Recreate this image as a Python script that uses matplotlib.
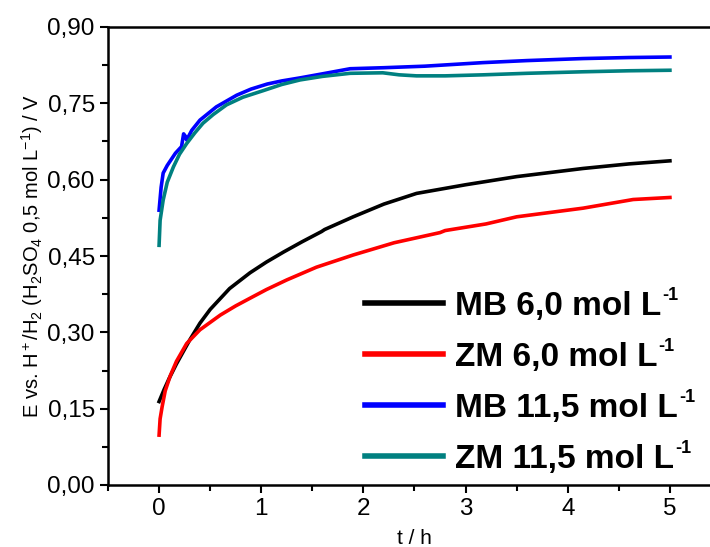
import matplotlib
matplotlib.use("Agg")
import matplotlib.pyplot as plt
from matplotlib.ticker import MultipleLocator, FuncFormatter
from matplotlib.transforms import IdentityTransform

plt.rcParams['font.family'] = ['Liberation Sans', 'DejaVu Sans']
plt.rcParams['mathtext.fontset'] = 'custom'
plt.rcParams['mathtext.rm'] = 'Liberation Sans'
plt.rcParams['mathtext.it'] = 'Liberation Sans'
plt.rcParams['mathtext.bf'] = 'Liberation Sans:bold'

# ---- data ----
t_mb6 = [0, 0.05, 0.1, 0.17, 0.3, 0.4, 0.5, 0.69, 0.89, 1.05, 1.22, 1.4, 1.59,
         1.62, 1.9, 2.2, 2.52, 3.0, 3.5, 4.15, 4.6, 5.0]
e_mb6 = [0.164, 0.188, 0.210, 0.238, 0.285, 0.318, 0.345, 0.386, 0.417, 0.438,
         0.458, 0.478, 0.498, 0.502, 0.527, 0.552, 0.573, 0.590, 0.606, 0.622,
         0.631, 0.637]

t_zm6 = [0, 0.01, 0.03, 0.06, 0.11, 0.17, 0.27, 0.4, 0.6, 0.75, 0.89, 1.05,
         1.25, 1.54, 1.9, 2.3, 2.75, 2.8, 3.2, 3.5, 4.15, 4.64, 5.0]
e_zm6 = [0.098, 0.13, 0.154, 0.185, 0.215, 0.243, 0.278, 0.305, 0.334, 0.352,
         0.367, 0.384, 0.403, 0.428, 0.452, 0.476, 0.496, 0.500, 0.513, 0.527,
         0.544, 0.561, 0.565]

t_mb11 = [0, 0.02, 0.04, 0.08, 0.16, 0.22, 0.24, 0.255, 0.27, 0.32, 0.4, 0.56,
          0.76, 0.9, 1.06, 1.2, 1.38, 1.6, 1.87, 2.2, 2.6, 3.17, 3.6, 4.15,
          4.6, 5.0]
e_mb11 = [0.540, 0.585, 0.613, 0.628, 0.652, 0.665, 0.690, 0.686, 0.678, 0.697,
          0.717, 0.743, 0.766, 0.778, 0.788, 0.794, 0.800, 0.808, 0.818, 0.820,
          0.823, 0.830, 0.834, 0.838, 0.840, 0.841]

t_zm11 = [0, 0.01, 0.04, 0.08, 0.14, 0.2, 0.27, 0.35, 0.43, 0.53, 0.66, 0.82,
          1.02, 1.2, 1.38, 1.6, 1.87, 2.19, 2.35, 2.52, 2.8, 3.17, 3.6, 4.15,
          4.6, 5.0]
e_zm11 = [0.471, 0.52, 0.56, 0.595, 0.625, 0.650, 0.671, 0.692, 0.711, 0.728,
          0.747, 0.762, 0.775, 0.787, 0.796, 0.803, 0.809, 0.810, 0.806, 0.804,
          0.804, 0.806, 0.809, 0.812, 0.814, 0.815]

labels = ["MB 6,0 mol L", "ZM 6,0 mol L", "MB 11,5 mol L", "ZM 11,5 mol L"]
label_sup = "-1"
colors = ['#000000', '#ff0000', '#0000ff', '#008080']

fig = plt.figure(figsize=(7.10, 5.47), dpi=100)
ax = fig.add_axes([108/710, 62/547, 613/710, 458/547])

for (t, e), lab, c in zip([(t_mb6, e_mb6), (t_zm6, e_zm6), (t_mb11, e_mb11), (t_zm11, e_zm11)],
                          labels, colors):
    ax.plot(t, e, color=c, lw=2.6, label=lab, solid_joinstyle='round')

ax.set_xlim(-0.5, 5.5)
ax.set_ylim(0, 0.9)
ax.xaxis.set_major_locator(MultipleLocator(1))
ax.xaxis.set_minor_locator(MultipleLocator(0.5))
ax.yaxis.set_major_locator(MultipleLocator(0.15))
ax.yaxis.set_minor_locator(MultipleLocator(0.075))
ax.yaxis.set_major_formatter(FuncFormatter(lambda v, p: f"{v:.2f}".replace('.', ',')))
ax.tick_params(which='both', direction='out', width=1.5, labelsize=17.5)
ax.tick_params(which='major', length=6)
ax.tick_params(which='minor', length=4)
for s in ax.spines.values():
    s.set_linewidth(1.8)
ax.spines['right'].set_visible(False)

ax.set_xlabel("t / h", fontsize=15, labelpad=6)
ax.set_ylabel(r"E vs. H$^+$/H$_2$ (H$_2$SO$_4$ 0,5 mol L$^{-1}$) / V", fontsize=14.5, labelpad=2)

leg = ax.legend(loc='upper left', bbox_to_anchor=((365-108)/613, (485-291)/458),
                frameon=False, prop={'weight': 'bold', 'size': 24},
                handlelength=2.35, handletextpad=0.35, labelspacing=0.6,
                borderpad=0, borderaxespad=0)
for l in leg.get_lines():
    l.set_linewidth(4)

fig.canvas.draw()
renderer = fig.canvas.get_renderer()
for txt in leg.get_texts():
    bb = txt.get_window_extent(renderer)
    fig.text(bb.x1 + 1, bb.y1 + 4, label_sup, transform=IdentityTransform(),
             fontsize=13, fontweight='bold', ha='left', va='top')

fig.savefig("out.png", dpi=100)
